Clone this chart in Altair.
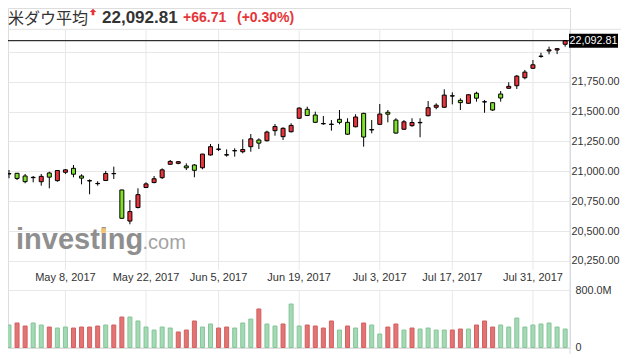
import altair as alt
import pandas as pd

dates = ["2017-04-27", "2017-04-28", "2017-05-01", "2017-05-02", "2017-05-03", "2017-05-04", "2017-05-05",
         "2017-05-08", "2017-05-09", "2017-05-10", "2017-05-11", "2017-05-12", "2017-05-15", "2017-05-16",
         "2017-05-17", "2017-05-18", "2017-05-19", "2017-05-22", "2017-05-23", "2017-05-24", "2017-05-25",
         "2017-05-26", "2017-05-30", "2017-05-31", "2017-06-01", "2017-06-02", "2017-06-05", "2017-06-06",
         "2017-06-07", "2017-06-08", "2017-06-09", "2017-06-12", "2017-06-13", "2017-06-14", "2017-06-15",
         "2017-06-16", "2017-06-19", "2017-06-20", "2017-06-21", "2017-06-22", "2017-06-23", "2017-06-26",
         "2017-06-27", "2017-06-28", "2017-06-29", "2017-06-30", "2017-07-03", "2017-07-05", "2017-07-06",
         "2017-07-07", "2017-07-10", "2017-07-11", "2017-07-12", "2017-07-13", "2017-07-14", "2017-07-17",
         "2017-07-18", "2017-07-19", "2017-07-20", "2017-07-21", "2017-07-24", "2017-07-25", "2017-07-26",
         "2017-07-27", "2017-07-28", "2017-07-31", "2017-08-01", "2017-08-02", "2017-08-03", "2017-08-04"]

opens = [20978, 20983.5, 20961, 20947, 20913, 20986, 20922, 20992, 21025, 20961,
         20922, 20899, 20923, 20982, 20844, 20584, 20697, 20865, 20906, 20947,
         21059, 21067, 21045, 21053, 21030, 21137, 21186, 21139, 21171, 21164,
         21206, 21262, 21256, 21340, 21290, 21331, 21444, 21519, 21471, 21400,
         21392, 21435, 21410, 21373, 21485, 21346, 21393, 21494, 21429, 21352,
         21382, 21406, 21465, 21536, 21536, 21632, 21594, 21569, 21653, 21582,
         21574, 21647, 21695, 21716, 21783, 21862, 21961, 22007, 22015, 22063]
highs = [21011, 20986, 20978, 20961, 20978, 20997, 21011, 21019, 21053, 20975,
         20933, 20917, 21003, 21039, 20846, 20760, 20858, 20908, 20961, 21025,
         21095, 21086, 21067, 21060, 21146, 21229, 21229, 21184, 21193, 21268,
         21312, 21276, 21340, 21396, 21368, 21402, 21535, 21541, 21499, 21463,
         21429, 21513, 21444, 21477, 21490, 21429, 21563, 21513, 21444, 21429,
         21444, 21444, 21588, 21569, 21686, 21661, 21611, 21644, 21666, 21597,
         21580, 21672, 21745, 21806, 21848, 21931, 21992, 22043, 22032, 22099]
lows = [20942, 20927, 20900, 20908, 20880, 20858, 20913, 20978, 20950, 20891,
        20808, 20880, 20920, 20936, 20605, 20557, 20690, 20860, 20900, 20936,
        21055, 21059, 21011, 20950, 21017, 21131, 21170, 21123, 21123, 21151,
        21164, 21187, 21250, 21298, 21262, 21325, 21440, 21462, 21404, 21390,
        21340, 21393, 21305, 21368, 21206, 21318, 21390, 21410, 21315, 21346,
        21373, 21285, 21460, 21519, 21530, 21560, 21513, 21565, 21583, 21490,
        21505, 21583, 21690, 21689, 21770, 21858, 21950, 21979, 21981, 22043]
closes = [20981.33, 20940.51, 20913.46, 20949.89, 20957.90, 20951.47, 21006.94, 21012.42, 20975.78, 20943.11,
          20919.42, 20896.61, 20981.94, 20979.75, 20606.93, 20663.02, 20804.84, 20894.83, 20937.91, 21012.42,
          21082.95, 21080.28, 21029.47, 21008.65, 21144.18, 21206.29, 21184.04, 21136.23, 21173.69, 21182.53,
          21271.97, 21235.67, 21328.47, 21374.56, 21359.90, 21384.28, 21528.99, 21467.14, 21410.03, 21397.29,
          21394.76, 21409.55, 21310.66, 21454.61, 21287.03, 21349.63, 21479.27, 21478.17, 21320.04, 21414.34,
          21408.52, 21409.07, 21532.14, 21553.09, 21637.74, 21629.72, 21574.73, 21640.75, 21611.78, 21580.07,
          21513.17, 21613.43, 21711.01, 21796.55, 21830.31, 21891.12, 21963.92, 22016.24, 22026.10, 22092.81]
volumes_m = [313, 341, 299, 341, 313, 285, 271, 285, 271, 285,
             285, 299, 313, 313, 424, 424, 369, 285, 243, 285,
             271, 216, 243, 369, 285, 327, 271, 285, 271, 341,
             396, 536, 327, 299, 327, 605, 299, 313, 299, 271,
             369, 243, 299, 271, 341, 313, 188, 285, 327, 243,
             271, 257, 271, 243, 243, 243, 257, 257, 313, 369,
             285, 313, 285, 410, 285, 313, 327, 341, 285, 257]
prev_close = 20975.09

tick_idx = [7, 17, 26, 36, 46, 55, 65]
tick_labels = ["May 8, 2017", "May 22, 2017", "Jun 5, 2017", "Jun 19, 2017",
               "Jul 3, 2017", "Jul 17, 2017", "Jul 31, 2017"]
price_ticks = [20250, 20500, 20750, 21000, 21250, 21500, 21750, 22000]
vol_ticks = [0, 800]
title_text = ["米ダウ平均"]
brand = ["investing", ".com"]

n = len(closes)
prev = [prev_close] + closes[:-1]
df = pd.DataFrame({"i": list(range(n)), "date": dates, "open": opens, "high": highs,
                   "low": lows, "close": closes, "vol": volumes_m})
df["cdir"] = ["doji" if abs(c - o) < 6 else ("up" if c > o else "down") for o, c in zip(opens, closes)]
df["vdir"] = ["up" if c > p else "down" for c, p in zip(closes, prev)]

last = closes[-1]
chg = last - closes[-2]
pct = chg / closes[-2] * 100
last_df = pd.DataFrame({"last": [last], "label": [f"{last:,.2f}"]})
ticks_df = pd.DataFrame({"i": tick_idx, "label": tick_labels})

FONT = "Liberation Sans, Arial, sans-serif"
W, H = 562, 340
xs = alt.Scale(domain=[-0.124, 69.60], nice=False, zero=False, padding=0)
ps = alt.Scale(domain=[19521.9, 22366.4], nice=False, zero=False, padding=0)
vs = alt.Scale(domain=[-6.957, 4723.5], nice=False, zero=False, padding=0)
X = alt.X("i:Q", scale=xs, axis=None)
GRID = "#e8e8e8"

price_axis = alt.Axis(orient="right", values=price_ticks, grid=True, gridColor=GRID, domain=False,
                      ticks=False, labelPadding=1, labelFontSize=10.8, labelColor="#333333",
                      labelFont=FONT, labelBaseline="middle", labelOverlap=False, title=None,
                      labelExpr="datum.value == 22000 ? '' : format(datum.value, ',.2f')")
vol_axis = alt.Axis(orient="right", values=vol_ticks, grid=True, gridColor=GRID, domain=False,
                    ticks=False, labelPadding=5, labelFontSize=10.8, labelColor="#333333",
                    labelFont=FONT, labelBaseline="middle", labelOverlap=False, title=None,
                    labelExpr="datum.value == 0 ? '0' : format(datum.value, '.1f') + 'M'")

base = alt.Chart(df)

wick = base.mark_rule(color="black", strokeWidth=1).encode(
    x=X, y=alt.Y("low:Q", scale=ps, axis=price_axis), y2="high:Q")
body = base.mark_bar(width=4, stroke="black", strokeWidth=1).encode(
    x=X, y=alt.Y("open:Q", scale=ps, axis=price_axis), y2="close:Q",
    fill=alt.Fill("cdir:N", scale=alt.Scale(domain=["up", "down", "doji"],
                                            range=["#e8343a", "#7ee02b", "#000000"]), legend=None))
lastline = alt.Chart(last_df).mark_rule(color="black", strokeWidth=1).encode(
    y=alt.Y("last:Q", scale=ps, axis=price_axis), x=alt.value(0), x2=alt.value(W))
box = alt.Chart(last_df).mark_point(shape="M-1,-0.2857H1V0.2857H-1Z", size=2401, filled=True,
                                    color="black", opacity=1).encode(
    x=alt.value(585.5), y=alt.Y("last:Q", scale=ps, axis=price_axis))
boxtext = alt.Chart(last_df).mark_text(color="white", fontSize=10.8, font=FONT, align="center",
                                       baseline="middle").encode(
    x=alt.value(585.5), y=alt.Y("last:Q", scale=ps, axis=price_axis), text="label:N")
price_layer = alt.layer(wick, body, lastline, box, boxtext)

volbar = base.mark_bar(width=4, strokeWidth=1).encode(
    x=X, y=alt.Y("vol:Q", scale=vs, axis=vol_axis), y2=alt.datum(0),
    fill=alt.Fill("vdir:N", scale=alt.Scale(domain=["up", "down"], range=["#a3d9b4", "#e27474"]), legend=None),
    stroke=alt.Stroke("vdir:N", scale=alt.Scale(domain=["up", "down"], range=["#86c598", "#d35f60"]), legend=None))
vol_layer = alt.layer(volbar)

tk = alt.Chart(ticks_df)
vgrid1 = tk.mark_rule(color=GRID, strokeWidth=1).encode(x=X, y=alt.value(21.3), y2=alt.value(262))
vgrid2 = tk.mark_rule(color=GRID, strokeWidth=1).encode(x=X, y=alt.value(282), y2=alt.value(339.5))
xlabels = tk.mark_text(fontSize=11, font=FONT, color="#333333", align="center", baseline="middle").encode(
    x=X, y=alt.value(270), text="label:N")

sep = alt.Chart(last_df).mark_rule(color="#e3e3e3", strokeWidth=1).encode(
    x=alt.value(0), x2=alt.value(613), y=alt.value(21.3))
border = alt.Chart(last_df).mark_rule(color="#d5dbe3", strokeWidth=1).encode(
    x=alt.value(W), y=alt.value(21.3), y2=alt.value(346))

wm1 = alt.Chart(pd.DataFrame({"t": [brand[0]]})).mark_text(
    fontSize=29, fontWeight="bold", font=FONT, color="#8f8f8f", align="left", baseline="alphabetic").encode(
    x=alt.value(8), y=alt.value(241), text="t:N")
wm2 = alt.Chart(pd.DataFrame({"t": [brand[1]]})).mark_text(
    fontSize=20, font=FONT, color="#a3a3a3", align="left", baseline="alphabetic").encode(
    x=alt.value(134.5), y=alt.value(241), text="t:N")
wmdot = alt.Chart(last_df).mark_point(shape="square", size=22, filled=True, color="#f5c46a", opacity=1).encode(
    x=alt.value(95.5), y=alt.value(222.5))

h_title = alt.Chart(pd.DataFrame({"t": title_text})).mark_text(
    fontSize=16, font="Liberation Sans, 'Noto Sans CJK JP', sans-serif", color="#333333",
    align="left", baseline="alphabetic").encode(
    x=alt.value(0), y=alt.value(15.5), text="t:N")
h_arrow = alt.Chart(last_df).mark_point(shape="M0,-1L1,0H0.4V1H-0.4V0H-1Z", size=45, filled=True,
                                        color="#e5363a", opacity=1).encode(
    x=alt.value(85), y=alt.value(4))
h_price = alt.Chart(pd.DataFrame({"t": [f"{last:,.2f}"]})).mark_text(
    fontSize=17, fontWeight="bold", font=FONT, color="#333333", align="left", baseline="alphabetic").encode(
    x=alt.value(94), y=alt.value(14.5), text="t:N")
h_chg = alt.Chart(pd.DataFrame({"t": [f"{chg:+.2f}"]})).mark_text(
    fontSize=14, fontWeight="bold", font=FONT, color="#e5363a", align="left", baseline="alphabetic").encode(
    x=alt.value(175), y=alt.value(14), text="t:N")
h_pct = alt.Chart(pd.DataFrame({"t": [f"({pct:+.2f}%)"]})).mark_text(
    fontSize=14, fontWeight="bold", font=FONT, color="#e5363a", align="left", baseline="alphabetic").encode(
    x=alt.value(229), y=alt.value(14), text="t:N")

chart = alt.layer(
    sep, vgrid1, vgrid2, border, wm1, wm2, wmdot, price_layer, vol_layer, xlabels,
    h_title, h_arrow, h_price, h_chg, h_pct
).resolve_scale(y="independent", fill="independent", stroke="independent").properties(
    width=W, height=H, autosize=alt.AutoSizeParams(type="none"),
    padding={"left": 0, "top": 0, "right": 51, "bottom": 6}
).configure_view(stroke=None).configure(background="white")

chart.save("out.html", embed_options={"renderer": "svg", "actions": False})
